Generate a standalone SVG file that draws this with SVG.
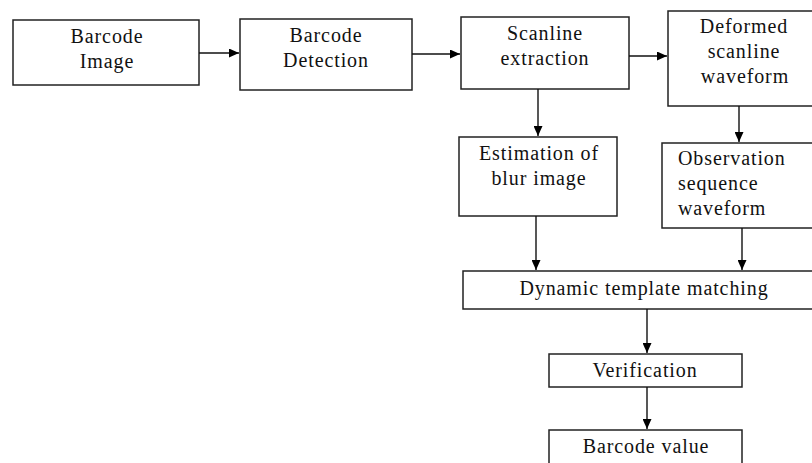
<svg xmlns="http://www.w3.org/2000/svg" width="812" height="463" viewBox="0 0 812 463">
<defs>
<marker id="ah" markerUnits="userSpaceOnUse" markerWidth="10" markerHeight="9" viewBox="0 0 10 9" refX="10" refY="4.5" orient="auto">
<path d="M0,0 L10,4.5 L0,9 z" fill="#000"/>
</marker>
</defs>
<style>
rect { fill: #fff; stroke: #222; stroke-width: 1.5; }
text { font-family: "Liberation Serif", "Times New Roman", serif; font-size: 20px; letter-spacing: 0.9px; fill: #111; }
.c { text-anchor: middle; }
#connectors line { stroke: #111; stroke-width: 1.4; marker-end: url(#ah); }
</style>
<rect x="0" y="0" width="812" height="463" style="fill:#fff;stroke:none"/>
<g id="barcode-image">
<rect x="13" y="20" width="186" height="65"/>
<text class="c" x="107" y="43">Barcode</text>
<text class="c" x="107" y="68">Image</text>
</g>
<g id="barcode-detection">
<rect x="240" y="19" width="172" height="71"/>
<text class="c" x="326" y="42">Barcode</text>
<text class="c" x="326" y="67">Detection</text>
</g>
<g id="scanline-extraction">
<rect x="461" y="17" width="168" height="72"/>
<text class="c" x="545" y="40">Scanline</text>
<text class="c" x="545" y="65">extraction</text>
</g>
<g id="deformed-waveform">
<rect x="668" y="11" width="150" height="95"/>
<text class="c" x="744" y="33">Deformed</text>
<text class="c" x="744" y="58">scanline</text>
<text class="c" x="745" y="83">waveform</text>
</g>
<g id="estimation-blur">
<rect x="459" y="137" width="158" height="79"/>
<text class="c" x="539" y="160">Estimation of</text>
<text class="c" x="539" y="185">blur image</text>
</g>
<g id="observation-waveform">
<rect x="662" y="143" width="156" height="85"/>
<text x="678" y="165">Observation</text>
<text x="678" y="190">sequence</text>
<text x="678" y="215">waveform</text>
</g>
<g id="dynamic-template-matching">
<rect x="463" y="271" width="355" height="38"/>
<text class="c" x="644" y="295">Dynamic template matching</text>
</g>
<g id="verification">
<rect x="549" y="354" width="193" height="33"/>
<text class="c" x="645" y="377">Verification</text>
</g>
<g id="barcode-value">
<rect x="549" y="430" width="193" height="45"/>
<text class="c" x="646" y="453">Barcode value</text>
</g>
<g id="connectors">
<line x1="199" y1="53" x2="239" y2="53"/>
<line x1="412" y1="54" x2="460" y2="54"/>
<line x1="629" y1="56" x2="667" y2="56"/>
<line x1="538" y1="89" x2="538" y2="136"/>
<line x1="739" y1="106" x2="739" y2="142"/>
<line x1="536" y1="216" x2="536" y2="270"/>
<line x1="742" y1="228" x2="742" y2="270"/>
<line x1="647" y1="309" x2="647" y2="353"/>
<line x1="647" y1="387" x2="647" y2="429"/>
</g>
</svg>
